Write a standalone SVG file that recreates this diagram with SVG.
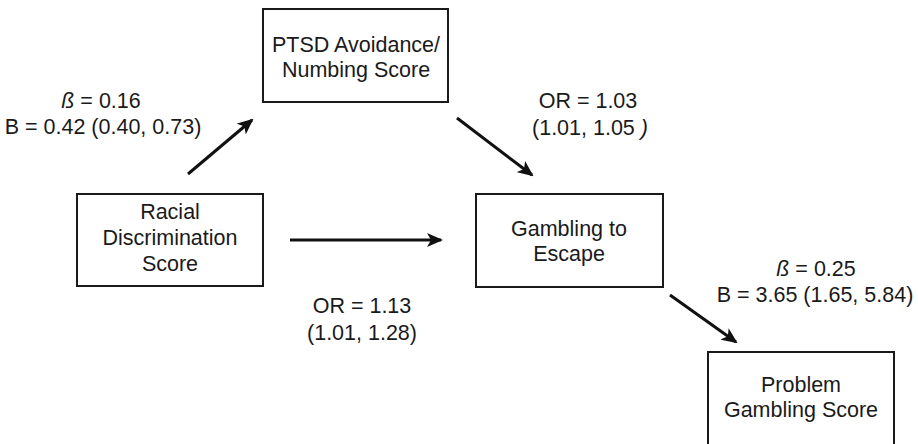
<svg xmlns="http://www.w3.org/2000/svg" width="918" height="444" viewBox="0 0 918 444">
<defs>
<style>
.box{fill:#fff;stroke:#1a1a1a;stroke-width:2}
.t{font-family:"Liberation Sans",Arial,sans-serif;font-size:21.5px;fill:#1a1a1a;text-anchor:middle}
.c{stroke:#111;stroke-width:3;fill:none;marker-end:url(#ah)}
.i{font-style:italic}
</style>
<marker id="ah" viewBox="0 0 16 14" refX="14" refY="7" markerWidth="16" markerHeight="14" markerUnits="userSpaceOnUse" orient="auto">
<path d="M0,0 L16,7 L0,14 L4,7 z" fill="#111"/>
</marker>
</defs>
<rect width="918" height="444" fill="#fff"/>
<g id="connectors">
<line class="c" x1="188" y1="174" x2="252" y2="120"/>
<line class="c" x1="457" y1="118" x2="532" y2="175"/>
<line class="c" x1="290" y1="240" x2="441" y2="240"/>
<line class="c" x1="670" y1="295" x2="736" y2="342"/>
</g>
<g id="label-a">
<text class="t" x="101" y="108"><tspan class="i">ß</tspan> = 0.16</text>
<text class="t" x="103" y="134">B = 0.42 (0.40, 0.73)</text>
</g>
<g id="label-b">
<text class="t" x="588" y="108">OR = 1.03</text>
<text class="t" x="590" y="135">(1.01, 1.05 <tspan class="i">)</tspan></text>
</g>
<g id="label-c">
<text class="t" x="362" y="313">OR = 1.13</text>
<text class="t" x="362" y="340">(1.01, 1.28)</text>
</g>
<g id="label-d">
<text class="t" x="816" y="276"><tspan class="i">ß</tspan> = 0.25</text>
<text class="t" x="815" y="302">B = 3.65 (1.65, 5.84)</text>
</g>
<g id="node-ptsd">
<rect class="box" x="263" y="9" width="185" height="93"/>
<text class="t" x="356" y="52">PTSD Avoidance/</text>
<text class="t" x="356" y="77">Numbing Score</text>
</g>
<g id="node-racial">
<rect class="box" x="77" y="194" width="186" height="92"/>
<text class="t" x="170" y="219">Racial</text>
<text class="t" x="170" y="245">Discrimination</text>
<text class="t" x="170" y="271">Score</text>
</g>
<g id="node-escape">
<rect class="box" x="476" y="194" width="187" height="93"/>
<text class="t" x="569" y="236">Gambling to</text>
<text class="t" x="569" y="261">Escape</text>
</g>
<g id="node-problem">
<rect class="box" x="708" y="352" width="186" height="94"/>
<text class="t" x="801" y="392">Problem</text>
<text class="t" x="801" y="417">Gambling Score</text>
</g>
</svg>
